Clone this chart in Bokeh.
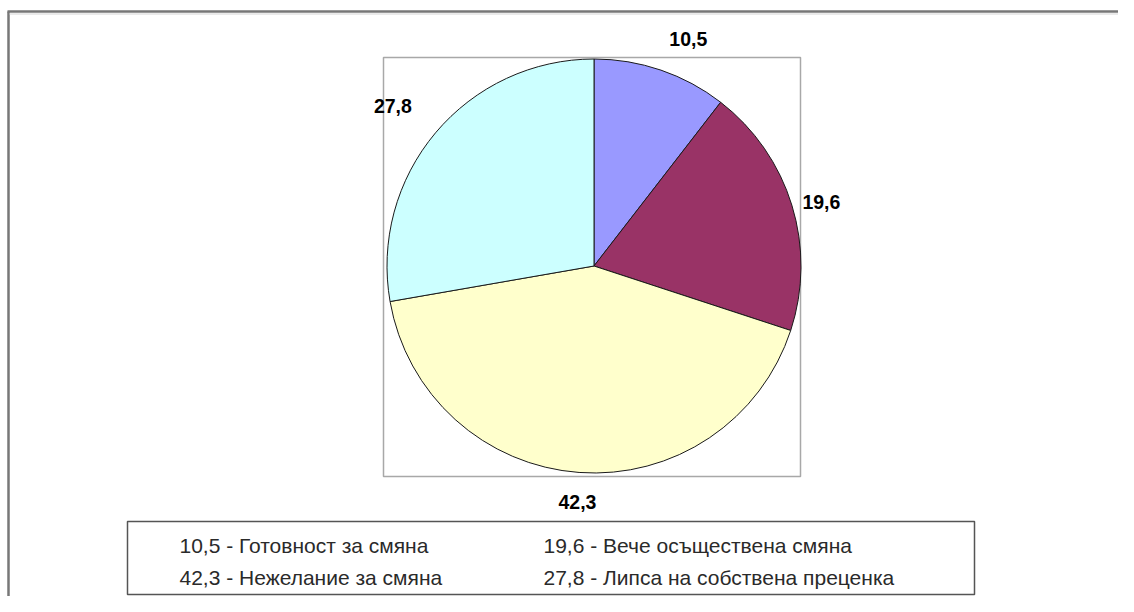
import math
from bokeh.plotting import figure
from bokeh.models import Range1d
from bokeh.core.properties import value
from bokeh.embed import file_html
from bokeh.resources import INLINE

# ---- data ----
values = [10.5, 19.6, 42.3, 27.8]
value_labels = ["10,5", "19,6", "42,3", "27,8"]
names = ["Готовност за смяна", "Вече осъществена смяна",
         "Нежелание за смяна", "Липса на собствена преценка"]
colors = ["#9999FF", "#993366", "#FFFFCC", "#CCFFFF"]

# ---- layout ----
label_gap = [26, 11, 23, 31]   # distance of each value label from the pie edge

W, H = 1118, 596
FONT = "Liberation Sans"

def fx(rx):
    return rx

def fy(ry):
    return H - ry

p = figure(width=W, height=H, output_backend="svg", toolbar_location=None,
           x_range=Range1d(0, W), y_range=Range1d(0, H), min_border=0,
           background_fill_color="white", border_fill_color="white")
p.axis.visible = False
p.grid.visible = False
p.outline_line_color = None

# outer chart border (top and left visible)
p.line([fx(8), fx(8)], [fy(11), fy(620)], line_color="#777777", line_width=2.5)
p.line([fx(7), fx(1140)], [fy(11), fy(11)], line_color="#777777", line_width=2.5)
p.line([fx(9), fx(1140)], [fy(13.5), fy(13.5)], line_color="#D5D5D5", line_width=1.2)

# plot-area box
bx0, bx1, by0, by1 = 383, 800, 57, 476
p.quad(left=fx(bx0), right=fx(bx1), top=fy(by0), bottom=fy(by1),
       fill_color=None, line_color="#A8A8A8", line_width=1.5)

# pie
cx, cy, r = fx(593.5), fy(265.5), 207
total = sum(values)
cum = 0.0
starts, ends, mids = [], [], []
for v in values:
    a0 = cum / total * 2 * math.pi
    cum += v
    a1 = cum / total * 2 * math.pi
    starts.append(math.pi / 2 - a1)
    ends.append(math.pi / 2 - a0)
    mids.append((a0 + a1) / 2)
p.wedge(x=cx, y=cy, radius=r, start_angle=starts, end_angle=ends,
        direction="anticlock", fill_color=colors, line_color="#1a1a1a",
        line_width=1)

# value labels around pie
for i, m in enumerate(mids):
    s, c = math.sin(m), math.cos(m)
    d = r + label_gap[i]
    al = "left" if s > 0.3 else ("right" if s < -0.3 else "center")
    bl = "bottom" if c > 0.3 else ("top" if c < -0.3 else "middle")
    p.text(x=[cx + d * s], y=[cy + d * c], text=[value_labels[i]], text_align=al,
           text_baseline=bl, text_font=value(FONT), text_font_style="bold",
           text_font_size="19.5px", text_color="#000000")

# legend box
gx0, gx1, gy0, gy1 = 127, 974, 521, 594
p.quad(left=fx(gx0), right=fx(gx1), top=fy(gy0), bottom=fy(gy1),
       fill_color="white", line_color="#555555", line_width=1.5)
col_x = [fx(179), fx(543)]
row_y = [fy(545), fy(577)]
leg_x, leg_y, leg_t = [], [], []
for i, (v, n) in enumerate(zip(value_labels, names)):
    leg_x.append(col_x[i % 2])
    leg_y.append(row_y[i // 2])
    leg_t.append(f"{v} - {n}")
p.text(x=leg_x, y=leg_y, text=leg_t, text_align="left", text_baseline="middle",
       text_font=value(FONT), text_font_size="21px", text_color="#2a2a2a")

open("out.html", "w").write(file_html(p, INLINE))
